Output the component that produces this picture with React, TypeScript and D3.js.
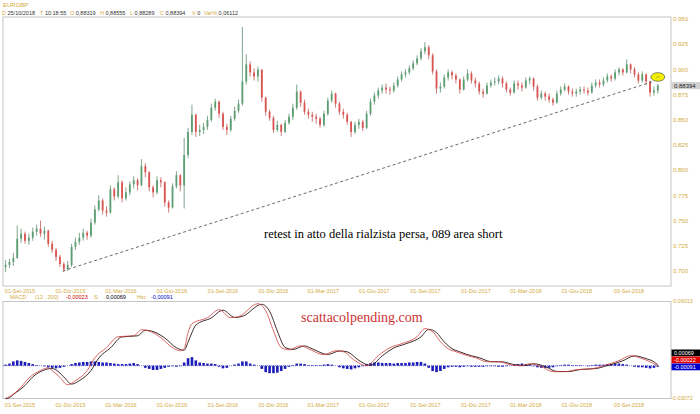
import React from "react";
import * as d3 from "d3";

const W = 700;
const H = 414;

// ---------- data ----------
const priceTicks = [0.7, 0.725, 0.75, 0.775, 0.8, 0.825, 0.85, 0.875, 0.9, 0.925, 0.95];
const dateTicks = ["2015-09-01", "2015-12-01", "2016-03-01", "2016-06-01", "2016-09-01", "2016-12-01", "2017-03-01", "2017-06-01", "2017-09-01", "2017-12-01", "2018-03-01", "2018-06-01", "2018-09-03"];
const dateTickLabels = ["01-Set-2015", "01-Dic-2015", "01-Mar-2016", "01-Giu-2016", "01-Set-2016", "01-Dic-2016", "01-Mar-2017", "01-Giu-2017", "01-Set-2017", "01-Dic-2017", "01-Mar-2018", "01-Giu-2018", "03-Set-2018"];

const firstWeek = "2015-08-03";
const firstOpen = 0.704;
const closes = [
  0.706, 0.709, 0.713, 0.732, 0.737, 0.730, 0.733, 0.739, 0.742, 0.737,
  0.740, 0.727, 0.721, 0.714, 0.707, 0.702, 0.706, 0.724, 0.729, 0.733,
  0.738, 0.735, 0.748, 0.761, 0.770, 0.760, 0.758, 0.781, 0.774, 0.788,
  0.772, 0.778, 0.786, 0.790, 0.785, 0.804, 0.798, 0.783, 0.778, 0.790,
  0.788, 0.768, 0.763, 0.784, 0.795, 0.785, 0.815, 0.838, 0.855, 0.838,
  0.840, 0.843, 0.850, 0.862, 0.868, 0.856, 0.843, 0.840, 0.851, 0.859,
  0.866, 0.888, 0.905, 0.897, 0.893, 0.900, 0.872, 0.858, 0.852, 0.840,
  0.845, 0.838, 0.847, 0.853, 0.862, 0.878, 0.867, 0.858, 0.855, 0.853,
  0.851, 0.845, 0.856, 0.869, 0.876, 0.866, 0.858, 0.855, 0.848, 0.838,
  0.845, 0.848, 0.842, 0.856, 0.868, 0.874, 0.879, 0.882, 0.880, 0.879,
  0.884, 0.890, 0.895, 0.897, 0.901, 0.906, 0.911, 0.918, 0.922, 0.914,
  0.898, 0.881, 0.883, 0.892, 0.897, 0.894, 0.890, 0.880, 0.890, 0.896,
  0.889, 0.886, 0.878, 0.876, 0.884, 0.887, 0.888, 0.891, 0.886, 0.880,
  0.877, 0.886, 0.884, 0.882, 0.889, 0.891, 0.883, 0.872, 0.876, 0.873,
  0.870, 0.867, 0.876, 0.880, 0.883, 0.878, 0.876, 0.878, 0.880, 0.879,
  0.877, 0.884, 0.887, 0.885, 0.889, 0.893, 0.891, 0.897, 0.900, 0.897,
  0.905, 0.900, 0.895, 0.889, 0.895, 0.888, 0.877, 0.879, 0.88394,
];
const highs = [
  0.711, 0.712, 0.718, 0.745, 0.742, 0.739, 0.737, 0.743, 0.746, 0.750,
  0.744, 0.741, 0.730, 0.723, 0.716, 0.709, 0.710, 0.727, 0.733, 0.738,
  0.742, 0.740, 0.752, 0.765, 0.775, 0.772, 0.764, 0.785, 0.783, 0.795,
  0.790, 0.783, 0.789, 0.794, 0.792, 0.811, 0.807, 0.799, 0.785, 0.794,
  0.793, 0.789, 0.770, 0.787, 0.799, 0.796, 0.832, 0.842, 0.865, 0.856,
  0.845, 0.847, 0.854, 0.866, 0.871, 0.869, 0.858, 0.846, 0.854, 0.863,
  0.870, 0.942, 0.915, 0.908, 0.901, 0.903, 0.899, 0.873, 0.860, 0.854,
  0.849, 0.846, 0.850, 0.856, 0.866, 0.885, 0.879, 0.870, 0.861, 0.858,
  0.856, 0.853, 0.859, 0.872, 0.879, 0.877, 0.868, 0.861, 0.857, 0.849,
  0.848, 0.851, 0.850, 0.859, 0.871, 0.877, 0.882, 0.885, 0.886, 0.883,
  0.887, 0.893, 0.898, 0.900, 0.904, 0.909, 0.914, 0.921, 0.927, 0.924,
  0.916, 0.900, 0.887, 0.895, 0.900, 0.899, 0.896, 0.891, 0.893, 0.900,
  0.898, 0.892, 0.888, 0.881, 0.887, 0.890, 0.892, 0.894, 0.893, 0.888,
  0.882, 0.889, 0.889, 0.887, 0.892, 0.893, 0.892, 0.885, 0.879, 0.878,
  0.876, 0.872, 0.879, 0.883, 0.886, 0.884, 0.881, 0.881, 0.883, 0.883,
  0.882, 0.887, 0.890, 0.890, 0.892, 0.896, 0.895, 0.900, 0.902, 0.901,
  0.910, 0.906, 0.902, 0.897, 0.898, 0.896, 0.889, 0.883, 0.8856,
];
const lows = [
  0.699, 0.703, 0.705, 0.712, 0.728, 0.727, 0.726, 0.730, 0.735, 0.734,
  0.731, 0.724, 0.718, 0.710, 0.704, 0.699, 0.700, 0.704, 0.721, 0.726,
  0.730, 0.731, 0.733, 0.746, 0.759, 0.756, 0.754, 0.757, 0.770, 0.772,
  0.768, 0.770, 0.775, 0.782, 0.780, 0.784, 0.793, 0.779, 0.773, 0.776,
  0.783, 0.764, 0.758, 0.762, 0.782, 0.779, 0.762, 0.812, 0.835, 0.833,
  0.834, 0.836, 0.840, 0.848, 0.859, 0.852, 0.840, 0.835, 0.838, 0.849,
  0.857, 0.864, 0.885, 0.893, 0.889, 0.888, 0.868, 0.854, 0.849, 0.837,
  0.838, 0.834, 0.837, 0.845, 0.850, 0.860, 0.863, 0.855, 0.851, 0.848,
  0.846, 0.842, 0.843, 0.854, 0.867, 0.862, 0.855, 0.851, 0.845, 0.833,
  0.836, 0.841, 0.839, 0.841, 0.854, 0.865, 0.871, 0.876, 0.876, 0.875,
  0.877, 0.882, 0.888, 0.892, 0.895, 0.899, 0.904, 0.909, 0.915, 0.910,
  0.895, 0.876, 0.877, 0.881, 0.889, 0.890, 0.886, 0.876, 0.879, 0.888,
  0.886, 0.882, 0.875, 0.872, 0.875, 0.882, 0.884, 0.885, 0.882, 0.877,
  0.874, 0.876, 0.880, 0.878, 0.881, 0.885, 0.879, 0.869, 0.870, 0.869,
  0.867, 0.864, 0.866, 0.874, 0.878, 0.875, 0.873, 0.873, 0.875, 0.876,
  0.874, 0.876, 0.882, 0.882, 0.883, 0.887, 0.888, 0.889, 0.894, 0.894,
  0.896, 0.896, 0.892, 0.886, 0.887, 0.885, 0.873, 0.874, 0.876,
];

// MACD (red) and signal (black): [week index, value]
const macdKnots: [number, number][] = [
  [0, -0.0305], [1, -0.029], [4, -0.02], [6, -0.0115], [9, -0.0045], [11, -0.002], [12, -0.0045],
  [14, -0.011], [16, -0.0178], [18, -0.014], [21, -0.0047], [23, 0.0075], [26, 0.0169], [29, 0.0272],
  [33, 0.028], [35, 0.0337], [38, 0.0309], [40, 0.0262], [43, 0.0169], [45, 0.014], [46, 0.016],
  [47, 0.031], [48, 0.0393], [52, 0.045], [55, 0.0524], [58, 0.045], [60, 0.0459], [65, 0.0581],
  [67, 0.0515], [69, 0.0328], [71, 0.0169], [73, 0.015], [76, 0.0187], [78, 0.0159], [82, 0.0103],
  [85, 0.014], [87, 0.0131], [90, 0.0047], [93, 0.0], [96, 0.0094], [99, 0.0169], [102, 0.0206],
  [106, 0.0272], [108, 0.0347], [110, 0.0318], [112, 0.0225], [114, 0.0159], [116, 0.0131],
  [119, 0.0094], [121, 0.0075], [124, 0.0037], [127, 0.0037], [130, 0.0009], [133, 0.0],
  [135, 0.0019], [138, -0.0009], [141, -0.0056], [144, -0.0056], [147, -0.0037], [151, -0.0028],
  [154, 0.0], [158, 0.0047], [161, 0.0094], [164, 0.0066], [166, 0.0037], [168, -0.00023],
];
const signalKnots: [number, number][] = [
  [0, -0.031], [1, -0.030], [2, -0.027], [5, -0.0185], [7, -0.0105], [10, -0.004], [12, -0.0025],
  [13, -0.004], [15, -0.0105], [17, -0.0172], [19, -0.014], [22, -0.0045], [24, 0.0072], [27, 0.0166],
  [30, 0.027], [34, 0.028], [36, 0.0332], [39, 0.0305], [41, 0.026], [44, 0.0168], [46, 0.0145],
  [47, 0.022], [48, 0.031], [49, 0.038], [53, 0.0448], [56, 0.052], [59, 0.0452], [61, 0.0462],
  [66, 0.0575], [68, 0.051], [70, 0.0325], [72, 0.0172], [74, 0.0152], [77, 0.0185], [79, 0.0158],
  [83, 0.0105], [86, 0.0138], [88, 0.013], [91, 0.005], [94, 0.0003], [97, 0.0092], [100, 0.0166],
  [103, 0.0204], [107, 0.027], [109, 0.034], [111, 0.031], [113, 0.0222], [115, 0.016], [117, 0.013],
  [120, 0.0093], [122, 0.0075], [125, 0.0038], [128, 0.0036], [131, 0.001], [134, 0.0002],
  [136, 0.0018], [139, -0.0008], [142, -0.0054], [145, -0.0055], [148, -0.0036], [152, -0.0027],
  [155, 0.0001], [159, 0.0046], [162, 0.0092], [165, 0.0066], [167, 0.0037], [168, 0.00069],
];
// histogram per week, in thousandths
const histThousandths = [
  1, 2, 4, 5, 4.5, 3.5, 2.5, 1.5, 0.5, 0,
  -0.5, -1.5, -2, -2.5, -2, -1, 0, 1.5, 2.5, 3,
  3.5, 3.5, 4, 4, 3.5, 3, 3, 2.5, 2, 1.5,
  1.5, 1.5, 2, 2.5, 1.5, 0, -2, -3, -4, -4,
  -3, -2, -1, -0.5, -1, -0.5, 3, 7, 8, 5,
  3, 2.5, 2, 2, 1.5, -1, -2.5, -2, 0, 1,
  2, 4, 4, 2, 1, 0, -3, -6, -7, -7,
  -6.5, -5, -3, -1, 0.5, 2, 2, 1.5, 0.5, 0.5,
  0.5, 0.5, 1, 1.5, 1, 0, -1.5, -2.5, -3, -3.5,
  -2.5, -1.5, -0.5, 1.5, 2.5, 3, 3, 2.5, 2.5, 2.5,
  2, 2.5, 2.5, 2.5, 3, 3, 3.5, 3.5, 2, -2,
  -5, -6, -5, -3, -1.5, -1, -1, -1.5, -1, -0.5,
  -1, -1, -1, -1, -0.5, -0.5, -0.5, -1, -1, -0.5,
  0, 1, 1.5, 2, 1.5, 1, -0.5, -1.5, -2, -2,
  -2, -1.5, -0.5, 0.5, 1, 1, 0.5, 0.5, 0.5, 0,
  -0.5, 0.5, 1, 1, 1, 1.5, 1.5, 2, 2, 1.5,
  1, 0, -1, -1.5, -1.5, -2, -2.5, -2, -1,
];

const trendDates = ["2015-11-17", "2018-10-14"];
const trendValues = [0.7, 0.8875];
const markerDate = "2018-10-25";
const markerValue = 0.8925;
const lastPrice = 0.88394;

const headerItems = [
  { k: "D", v: "25/10/2018", x: 2 },
  { k: "T", v: "10:18:55", x: 40 },
  { k: "O", v: "0,88319", x: 70 },
  { k: "H", v: "0,88555", x: 100 },
  { k: "L", v: "0,88289", x: 130 },
  { k: "C", v: "0,88394", x: 160 },
  { k: "V", v: "0", x: 192 },
  { k: "Var%", v: "0,06112", x: 204 },
];
const macdAxis = [0.06013, -0.03072];
const macdBoxes = [
  { v: "0.00069", fill: "#000000" },
  { v: "-0.00022", fill: "#e00000" },
  { v: "-0.00091", fill: "#0000cc" },
];

// ---------- layout ----------
const GOLD = "#d4aa40";
const SANS = "'Liberation Sans', Arial, sans-serif";
const SERIF = "'Liberation Serif', 'Times New Roman', serif";
const P = { l: 3, r: 671, t: 17, b: 286 };
const M = { t: 301.5, b: 398.5 };

const parse = d3.timeParse("%Y-%m-%d");
const x = d3.scaleTime().domain([parse("2015-09-01")!, parse("2018-10-25")!]).range([20, 657.8]);
const yP = d3.scaleLinear().domain([0.7, 0.95]).range([271, 19]);
const yM = d3.scaleLinear().domain([-0.03072, 0.06013]).range([M.b, M.t]);
const weekDate = (i: number) => d3.timeDay.offset(parse(firstWeek)!, 7 * i + 3);

export default function App() {
  const candles = closes.map((c, i) => {
    const o = i === 0 ? firstOpen : closes[i - 1];
    return { i, o, c, h: highs[i], l: lows[i], up: c >= o };
  });
  const bw = 1.8;
  const line = d3
    .line<[number, number]>()
    .x((d) => x(weekDate(d[0])))
    .y((d) => yM(d[1]))
    .curve(d3.curveMonotoneX);

  const lastY = yP(lastPrice);

  return (
    <svg width={W} height={H} style={{ display: "block", position: "absolute", left: 0, top: 0, background: "#fff" }}>
      <rect x={0} y={0} width={W} height={H} fill="#fff" />
      {/* header */}
      <text x={3} y={7} fontFamily={SANS} fontSize={6} fill={GOLD}>EURGBP</text>
      {headerItems.map((h) => (
        <text key={h.k} x={h.x} y={15} fontFamily={SANS} fontSize={5.5}>
          <tspan fill={GOLD}>{h.k}</tspan>
          <tspan fill="#333" dx={1.5}>{h.v}</tspan>
        </text>
      ))}

      {/* price panel */}
      <rect x={P.l} y={P.t} width={P.r - P.l} height={P.b - P.t} fill="none" stroke="#c4c4c4" strokeWidth={1} />
      {candles.map((d) => {
        const cx = x(weekDate(d.i));
        const col = d.up ? "#5a9e72" : "#d9534f";
        const top = yP(Math.max(d.o, d.c));
        const bot = yP(Math.min(d.o, d.c));
        return (
          <g key={d.i}>
            <line x1={cx} x2={cx} y1={yP(d.h)} y2={yP(d.l)} stroke={d.up ? "#4a7f5c" : "#b84442"} strokeWidth={0.7} />
            <rect x={cx - bw / 2} y={top} width={bw} height={Math.max(0.8, bot - top)} fill={col} />
          </g>
        );
      })}
      <line
        x1={x(parse(trendDates[0])!)}
        y1={yP(trendValues[0])}
        x2={x(parse(trendDates[1])!)}
        y2={yP(trendValues[1])}
        stroke="#444"
        strokeWidth={0.8}
        strokeDasharray="3,2.5"
      />
      <ellipse cx={x(parse(markerDate)!)} cy={yP(markerValue)} rx={7} ry={4.3} fill="#f4ee00" stroke="#555" strokeWidth={0.7} />
      <path
        d={`M${x(parse(markerDate)!) - 1.5},${yP(markerValue) + 1} q1.5,-2 3,-1`}
        fill="none"
        stroke="#777"
        strokeWidth={0.6}
      />
      {priceTicks.map((t) => (
        <text key={t} x={673} y={yP(t)} dy="0.35em" fontFamily={SANS} fontSize={6} fill={GOLD}>
          {t.toFixed(3)}
        </text>
      ))}
      <rect x={671.5} y={lastY - 3.6} width={28.5} height={7.2} fill="#d2d2d2" />
      <text x={674} y={lastY} dy="0.35em" fontFamily={SANS} fontSize={6} fill="#222">
        {lastPrice.toFixed(5)}
      </text>
      <text x={264} y={238} fontFamily={SERIF} fontSize={12.5} fill="#000">
        retest in atto della rialzista persa, 089 area short
      </text>

      {/* date labels under price panel */}
      {dateTicks.map((d, i) => (
        <text key={"a" + d} x={x(parse(d)!)} y={291} dy="0.35em" textAnchor="middle" fontFamily={SANS} fontSize={5.5} fill={GOLD}>
          {dateTickLabels[i]}
        </text>
      ))}

      {/* MACD header */}
      <text y={297} dy="0.35em" fontFamily={SANS} fontSize={5.5}>
        <tspan x={10} fill={GOLD}>MACD</tspan>
        <tspan x={35} fill={GOLD}>(12 , 200)</tspan>
        <tspan x={66} fill="#d00000">-0,00023</tspan>
        <tspan x={94} fill={GOLD}>S:</tspan>
        <tspan x={106} fill="#000">0,00069</tspan>
        <tspan x={137} fill={GOLD}>Hst:</tspan>
        <tspan x={151} fill="#0000cc">-0,00091</tspan>
      </text>

      {/* MACD panel */}
      <rect x={P.l} y={M.t} width={P.r - P.l} height={M.b - M.t} fill="none" stroke="#c4c4c4" strokeWidth={1} />
      <line x1={P.l} x2={x(weekDate(168))} y1={yM(0)} y2={yM(0)} stroke="#3030c0" strokeWidth={0.6} strokeDasharray="1,1" />
      {histThousandths.map((v, i) => {
        const cx = x(weekDate(i));
        const y0 = yM(0);
        const y1 = yM(v / 1000);
        return <rect key={i} x={cx - 1.3} y={Math.min(y0, y1)} width={2.6} height={Math.abs(y1 - y0)} fill="#1c1cb8" />;
      })}
      <path d={line(signalKnots) || ""} fill="none" stroke="#2a1414" strokeWidth={0.9} />
      <path d={line(macdKnots) || ""} fill="none" stroke="#d04040" strokeWidth={0.8} />
      <text x={301} y={322} fontFamily={SERIF} fontSize={14} fill="#cc3333">scattacolpending.com</text>
      {macdAxis.map((v) => (
        <text key={v} x={v > 0 ? 673 : 671} y={yM(v)} dy="0.35em" fontFamily={SANS} fontSize={5.5} fill={GOLD}>
          {v.toFixed(5)}
        </text>
      ))}
      {macdBoxes.map((b, i) => (
        <g key={b.v}>
          <rect x={671.5} y={349.5 + i * 7} width={28.5} height={6.8} fill={b.fill} />
          <text x={674} y={352.9 + i * 7} dy="0.35em" fontFamily={SANS} fontSize={5.5} fill="#fff">
            {b.v}
          </text>
        </g>
      ))}
      {dateTicks.map((d, i) => (
        <text key={"b" + d} x={x(parse(d)!)} y={405.5} dy="0.35em" textAnchor="middle" fontFamily={SANS} fontSize={5.5} fill={GOLD}>
          {dateTickLabels[i]}
        </text>
      ))}
    </svg>
  );
}
